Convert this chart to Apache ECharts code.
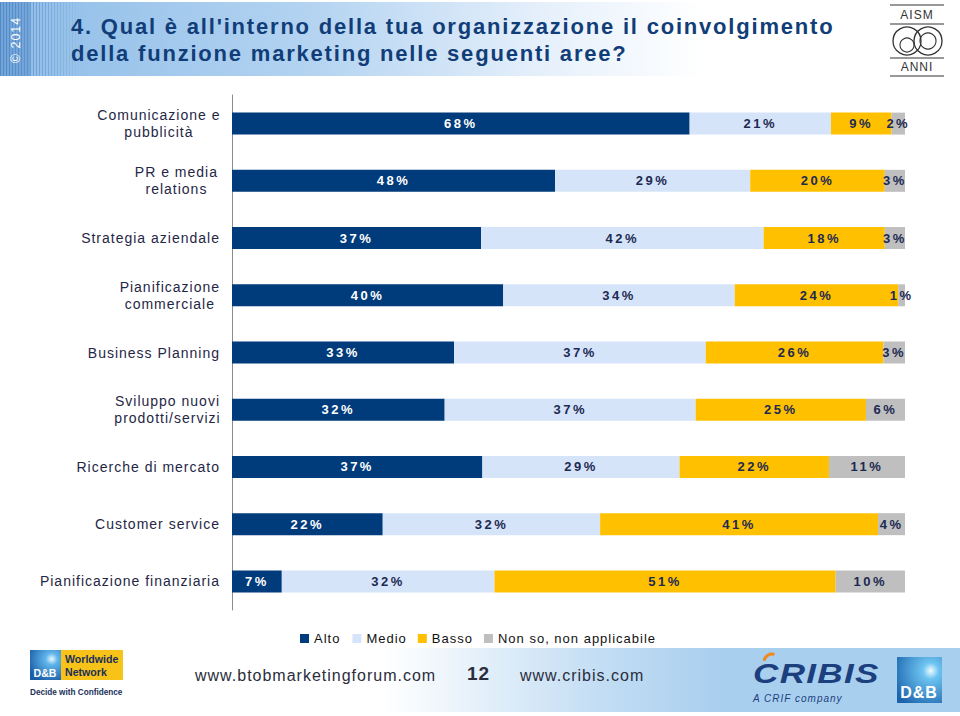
<!DOCTYPE html>
<html><head><meta charset="utf-8">
<script src="https://cdn.jsdelivr.net/npm/echarts@6/dist/echarts.min.js"></script>
<style>
html,body{margin:0;padding:0;background:#fff}
#main{width:960px;height:716px}
#main text{letter-spacing:1px}
#main text[style*="13px"][style*="bold"]{letter-spacing:2.5px}
#main text[style*="22px"]{letter-spacing:1.8px}
#main text[style*=".2px"],#main text[style*=".6px"]{letter-spacing:0}
</style>
</head><body><div id="main"></div>
<script>
const categories = ['Comunicazione e\npubblicità','PR e media\nrelations','Strategia aziendale','Pianificazione\ncommerciale','Business Planning','Sviluppo nuovi\nprodotti/servizi','Ricerche di mercato','Customer service','Pianificazione finanziaria'];
const seriesNames = ['Alto','Medio','Basso','Non so, non applicabile'];
const alto  = [68, 48, 37, 40.3, 33,   31.6, 37.2, 22.4, 7.4];
const medio = [21, 29, 42, 34.4, 37.4, 37.3, 29.3, 32.3, 31.6];
const basso = [9,  20, 18, 24.3, 26.4, 25.3, 22.2, 41.3, 50.7];
const nonSo = [2,  3,  3,  1.0,  3.2,  5.8,  11.3, 4.0,  10.3];
const colors = ['#003b7b','#d6e4f9','#ffc000','#bfbfbf'];
const labelColors = ['#ffffff','#1c2a52','#1c2a52','#1c2a52'];
const font = 'Liberation Sans, Arial, sans-serif';

const chart = echarts.init(document.getElementById('main'), null, {renderer:'svg'});

const stripes = [];
for (let i = 0; i < 28; i++) {
  stripes.push({type:'rect', shape:{x: i*3, y:2, width:1, height:74}, style:{fill:'#4f86c6', opacity: Math.max(0, 0.9 - i*0.032)}, silent:true, z:1});
}

const allData = [alto, medio, basso, nonSo];
const series = seriesNames.map((n, i) => ({
  name: n, type: 'bar', stack: 'total', barWidth: 22,
  itemStyle: {color: colors[i]},
  label: {show: true, position: 'inside', color: labelColors[i], fontSize: 13, fontWeight: 'bold', fontFamily: font,
    formatter: p => Math.round(p.value) + '%'},
  data: allData[i]
}));

chart.setOption({
  animation: false,
  textStyle: {fontFamily: font},
  title: {
    text: "4. Qual è all'interno della tua organizzazione il coinvolgimento\ndella funzione marketing nelle seguenti aree?",
    left: 66, top: 8,
    textStyle: {fontSize: 22, fontWeight: 'bold', color: '#113d78', lineHeight: 27, fontFamily: font}
  },
  legend: {
    data: seriesNames, left: 295, top: 627, itemWidth: 9, itemHeight: 9, itemGap: 16,
    icon: 'rect',
    textStyle: {fontSize: 13, color: '#111', fontFamily: font}
  },
  grid: {left: 232, right: 55, top: 95, bottom: 106},
  xAxis: {type: 'value', min: 0, max: 100, show: false},
  yAxis: {
    type: 'category', data: categories, inverse: true,
    axisLine: {show: true, lineStyle: {color: '#8c8c8c', width: 1}},
    axisTick: {show: false},
    axisLabel: {
      margin: 12, fontSize: 14, color: '#1f2745', fontFamily: font,
      formatter: v => v.indexOf('\n') < 0 ? v : v.split('\n').map(s => '{c|' + s + '}').join('\n'),
      rich: {c: {align: 'center', fontSize: 14, color: '#1f2745', lineHeight: 17, fontFamily: font, padding: [0, 7, 0, 0]}}
    }
  },
  series: series,
  graphic: [
    // header banner
    {type:'rect', shape:{x:0, y:2, width:880, height:74}, silent:true, z:0,
      style:{fill:{type:'linear', x:0, y:0, x2:1, y2:0, colorStops:[
        {offset:0, color:'#8fbde8'},{offset:0.35, color:'#b3d3f1'},{offset:0.62, color:'#e6f0fb'},{offset:0.8, color:'#ffffff'},{offset:1, color:'#ffffff'}]}}},
    {type:'rect', shape:{x:0, y:2, width:30, height:74}, silent:true, z:1, style:{fill:'#5b8fcb', opacity:0.55}},
    ...stripes,
    {type:'text', x:16, y:40, rotation: Math.PI/2, silent:true, z:3,
      style:{text:'© 2014', fill:'#ffffff', fontSize:12.5, fontFamily:font, align:'center', verticalAlign:'middle'}},
    // AISM logo
    {type:'line', shape:{x1:890, y1:5, x2:944, y2:5}, style:{stroke:'#333', lineWidth:1}, z:3},
    {type:'text', x:917, y:15, style:{text:'AISM', fill:'#333', fontSize:12, fontFamily:font, align:'center', verticalAlign:'middle'}, z:3},
    {type:'line', shape:{x1:890, y1:24, x2:944, y2:24}, style:{stroke:'#333', lineWidth:1}, z:3},
    {type:'circle', shape:{cx:907, cy:41, r:14}, style:{fill:'none', stroke:'#333', lineWidth:1.3}, z:3},
    {type:'circle', shape:{cx:928, cy:41, r:14}, style:{fill:'none', stroke:'#333', lineWidth:1.3}, z:3},
    {type:'circle', shape:{cx:907, cy:45, r:7}, style:{fill:'none', stroke:'#333', lineWidth:1.1}, z:3},
    {type:'circle', shape:{cx:928, cy:41, r:8}, style:{fill:'none', stroke:'#333', lineWidth:1.1}, z:3},
    {type:'line', shape:{x1:890, y1:58, x2:944, y2:58}, style:{stroke:'#333', lineWidth:1}, z:3},
    {type:'text', x:917, y:67, style:{text:'ANNI', fill:'#333', fontSize:12, fontFamily:font, align:'center', verticalAlign:'middle'}, z:3},
    {type:'line', shape:{x1:890, y1:76, x2:944, y2:76}, style:{stroke:'#333', lineWidth:1}, z:3},
    // footer band
    {type:'rect', shape:{x:0, y:648, width:960, height:64}, silent:true, z:0,
      style:{fill:{type:'linear', x:0, y:0, x2:1, y2:0, colorStops:[
        {offset:0, color:'#ffffff'},{offset:0.4, color:'#ffffff'},{offset:0.62, color:'#c4def4'},{offset:0.75, color:'#a9cfee'},{offset:1, color:'#a9cfee'}]}}},
    {type:'text', x:195, y:675, style:{text:'www.btobmarketingforum.com', fill:'#2a2d3c', fontSize:16, fontFamily:font, verticalAlign:'middle'}, z:3},
    {type:'text', x:467, y:673, style:{text:'12', fill:'#2a2d3c', fontSize:19, fontWeight:'bold', fontFamily:font, verticalAlign:'middle'}, z:3},
    {type:'text', x:520, y:675, style:{text:'www.cribis.com', fill:'#2a2d3c', fontSize:16, fontFamily:font, verticalAlign:'middle'}, z:3},
    // D&B Worldwide logo
    {type:'rect', shape:{x:30, y:650, width:31, height:30}, z:3,
      style:{fill:{type:'radial', x:0.7, y:0.3, r:0.8, colorStops:[{offset:0, color:'#e8f6ff'},{offset:0.25, color:'#5fb4ea'},{offset:1, color:'#1b5ea8'}]}}},
    {type:'text', x:45, y:673, style:{text:'D&B', fill:'#fff', fontSize:10.6, fontWeight:'bold', fontFamily:font, align:'center', verticalAlign:'middle'}, z:4},
    {type:'rect', shape:{x:61, y:650, width:62, height:30}, z:3, style:{fill:'#f7c318'}},
    {type:'text', x:65, y:659, style:{text:'Worldwide', fill:'#1a2f5a', fontSize:10.6, fontWeight:'bold', fontFamily:font, verticalAlign:'middle'}, z:4},
    {type:'text', x:65, y:672, style:{text:'Network', fill:'#1a2f5a', fontSize:10.6, fontWeight:'bold', fontFamily:font, verticalAlign:'middle'}, z:4},
    {type:'text', x:30, y:692, style:{text:'Decide with Confidence', fill:'#1a2f5a', fontSize:8.2, fontWeight:'bold', fontFamily:font, verticalAlign:'middle'}, z:4},
    // CRIBIS logo
    {type:'text', x:753, y:674, scaleX:1.3, style:{text:'CRIBIS', fill:'#1c3f7e', fontSize:27, fontWeight:'bold', fontStyle:'italic', fontFamily:font, verticalAlign:'middle'}, z:3},
    {type:'text', x:753, y:698, style:{text:'A CRIF company', fill:'#1c3f7e', fontSize:10, fontStyle:'italic', fontFamily:font, verticalAlign:'middle'}, z:3},
    {type:'arc', shape:{cx:772, cy:662, r:8, startAngle:Math.PI*1.05, endAngle:Math.PI*1.6}, style:{stroke:'#f08a1c', lineWidth:3, fill:'none'}, z:4},
    // D&B right logo
    {type:'rect', shape:{x:897, y:657, width:45, height:46}, z:3,
      style:{fill:{type:'radial', x:0.75, y:0.3, r:0.9, colorStops:[{offset:0, color:'#f0fbff'},{offset:0.2, color:'#6cc3f0'},{offset:1, color:'#1c63ad'}]}}},
    {type:'text', x:919, y:692, style:{text:'D&B', fill:'#fff', fontSize:16, fontWeight:'bold', fontFamily:font, align:'center', verticalAlign:'middle'}, z:4}
  ]
});
</script>
</body></html>
